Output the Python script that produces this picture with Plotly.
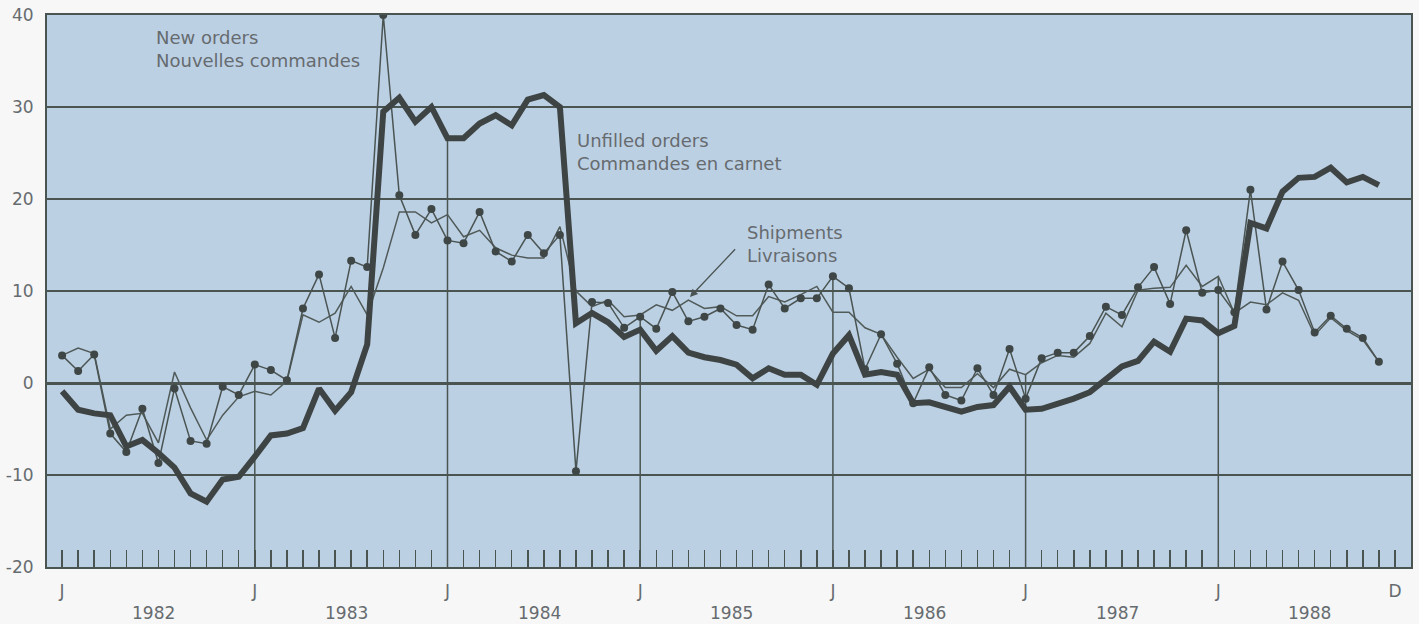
import plotly.graph_objects as go

# ---------------- data (monthly, Jan 1982 .. Nov 1988) ----------------
months = list(range(83))  # 0 = Jan 1982

new_orders = [
    3.0, 1.3, 3.1, -5.5, -7.5, -2.8, -8.7, -0.6, -6.3, -6.6, -0.4, -1.3,      # 1982
    2.0, 1.4, 0.3, 8.1, 11.8, 4.9, 13.3, 12.6, 40.0, 20.4, 16.1, 18.9,        # 1983
    15.5, 15.2, 18.6, 14.3, 13.2, 16.1, 14.1, 16.1, -9.6, 8.8, 8.7, 6.0,      # 1984
    7.2, 5.9, 9.9, 6.7, 7.2, 8.1, 6.3, 5.8, 10.7, 8.1, 9.2, 9.2,              # 1985
    11.6, 10.3, 1.5, 5.3, 2.1, -2.2, 1.7, -1.3, -1.9, 1.6, -1.3, 3.7,         # 1986
    -1.7, 2.7, 3.3, 3.3, 5.1, 8.3, 7.4, 10.4, 12.6, 8.6, 16.6, 9.8,          # 1987
    10.1, 7.7, 21.0, 8.0, 13.2, 10.1, 5.5, 7.3, 5.9, 4.9, 2.3,               # 1988
]

shipments = [
    3.0, 3.8, 3.2, -5.0, -3.5, -3.3, -6.5, 1.2, -2.7, -6.2, -3.5, -1.5,
    -0.9, -1.3, 0.2, 7.4, 6.6, 7.6, 10.5, 7.4, 12.5, 18.6, 18.6, 17.4,
    18.3, 15.9, 16.6, 14.7, 13.9, 13.6, 13.6, 17.0, 10.0, 8.3, 9.0, 7.2,
    7.4, 8.5, 7.9, 9.0, 8.1, 8.3, 7.3, 7.3, 9.4, 8.8, 9.6, 10.5,
    7.7, 7.7, 6.0, 5.3, 2.8, 0.5, 1.5, -0.5, -0.5, 1.0, -0.5, 1.5,
    0.9, 2.2, 3.0, 2.8, 4.3, 7.6, 6.1, 10.1, 10.3, 10.4, 12.8, 10.5,
    11.6, 7.6, 8.8, 8.5, 9.8, 9.0, 5.2, 7.1, 5.7, 4.7, 2.3,
]

unfilled = [
    -0.9, -2.9, -3.3, -3.5, -6.9, -6.2, -7.6, -9.2, -12.0, -12.9, -10.5, -10.2,
    -8.0, -5.7, -5.5, -4.9, -0.6, -3.0, -1.0, 4.2, 29.5, 31.0, 28.4, 30.0,
    26.6, 26.6, 28.2, 29.1, 28.0, 30.8, 31.3, 30.0, 6.5, 7.6, 6.6, 5.0,
    5.8, 3.5, 5.1, 3.3, 2.8, 2.5, 2.0, 0.5, 1.6, 0.9, 0.9, -0.2,
    3.2, 5.2, 0.9, 1.2, 0.9, -2.2, -2.1, -2.6, -3.1, -2.6, -2.4, -0.4,
    -2.9, -2.8, -2.3, -1.7, -1.0, 0.5, 1.8, 2.4, 4.5, 3.4, 7.0, 6.8,
    5.4, 6.2, 17.4, 16.8, 20.8, 22.3, 22.4, 23.4, 21.8, 22.4, 21.5,
]

years = [1982, 1983, 1984, 1985, 1986, 1987, 1988]
y_ticks = [-20, -10, 0, 10, 20, 30, 40]
n_ticks = 84  # Jan 1982 .. Dec 1988
month_labels = ["J" if m % 12 == 0 else ("D" if m == n_ticks - 1 else "") for m in range(n_ticks)]

# ---------------- styling ----------------
FONT = "DejaVu Sans"
TXT = "#666b6f"
GRID = "#4a5551"
BG = "#bcd0e4"
PAPER = "#f6f7f6"
LINE = "#3e4444"

fig = go.Figure()

# vertical drop lines at each January (from the bottom up to the highest series value)
drop_x, drop_y = [], []
for k in range(1, len(years)):
    m = 12 * k
    top = max(new_orders[m], shipments[m], unfilled[m])
    drop_x += [m, m, None]
    drop_y += [y_ticks[0], top, None]
fig.add_trace(go.Scatter(x=drop_x, y=drop_y, mode="lines",
                         line=dict(color=GRID, width=1.5), hoverinfo="skip", showlegend=False))

fig.add_trace(go.Scatter(x=months, y=shipments, mode="lines",
                         line=dict(color="#505a58", width=1.5), showlegend=False))
fig.add_trace(go.Scatter(x=months, y=new_orders, mode="lines+markers",
                         line=dict(color="#4a5452", width=1.5),
                         marker=dict(color="#3f4646", size=8), showlegend=False))
fig.add_trace(go.Scatter(x=months, y=unfilled, mode="lines",
                         line=dict(color=LINE, width=6), showlegend=False))

# labels
fig.add_annotation(x=5.73, y=36.3, xref="x", yref="y", xanchor="left", yanchor="middle",
                   align="left", showarrow=False,
                   text="New orders<br>Nouvelles commandes",
                   font=dict(family=FONT, size=18, color=TXT))
fig.add_annotation(x=31.94, y=25.1, xref="x", yref="y", xanchor="left", yanchor="middle",
                   align="left", showarrow=False,
                   text="Unfilled orders<br>Commandes en carnet",
                   font=dict(family=FONT, size=18, color=TXT))
fig.add_annotation(x=42.5, y=15.1, xref="x", yref="y", xanchor="left", yanchor="middle",
                   align="left", showarrow=False,
                   text="Shipments<br>Livraisons",
                   font=dict(family=FONT, size=18, color=TXT))
fig.add_annotation(x=39.1, y=9.35, ax=42.0, ay=14.7, xref="x", yref="y", axref="x", ayref="y",
                   text="", showarrow=True, arrowhead=2, arrowsize=1.2, arrowwidth=1.3,
                   arrowcolor="#4a5452")

for k, yr in enumerate(years):
    fig.add_annotation(x=12 * k + 5.7, y=0, xref="x", yref="paper", yanchor="middle",
                       yshift=-46, showarrow=False, text=str(yr),
                       font=dict(family=FONT, size=17, color=TXT))

fig.update_layout(
    width=1419, height=624,
    margin=dict(l=47, r=8, t=15, b=57, autoexpand=False),
    paper_bgcolor=PAPER, plot_bgcolor=BG,
    showlegend=False, hovermode=False,
    font=dict(family=FONT, size=17, color=TXT),
)
fig.update_xaxes(range=[-0.94, 84.0], tickmode="array", tickvals=list(range(n_ticks)),
                 ticktext=month_labels, ticks="inside", ticklen=17, tickwidth=1.5,
                 tickcolor=GRID, showgrid=False, zeroline=False, automargin=False,
                 showline=True, linecolor=GRID, linewidth=2, mirror=True,
                 ticklabelstandoff=8, tickfont=dict(family=FONT, size=17, color=TXT))
fig.update_yaxes(range=[-20, 40], tickmode="array", tickvals=y_ticks,
                 ticktext=[str(v) for v in y_ticks], ticks="", automargin=False,
                 showgrid=True, gridcolor=GRID, gridwidth=1.5,
                 zeroline=True, zerolinecolor=GRID, zerolinewidth=3,
                 showline=True, linecolor=GRID, linewidth=2, mirror=True,
                 ticklabelstandoff=8, tickfont=dict(family=FONT, size=17, color=TXT))

fig.write_html("out.html", config={"displayModeBar": False, "staticPlot": True},
               post_script="document.body.style.margin='0';document.body.style.overflow='hidden';")
